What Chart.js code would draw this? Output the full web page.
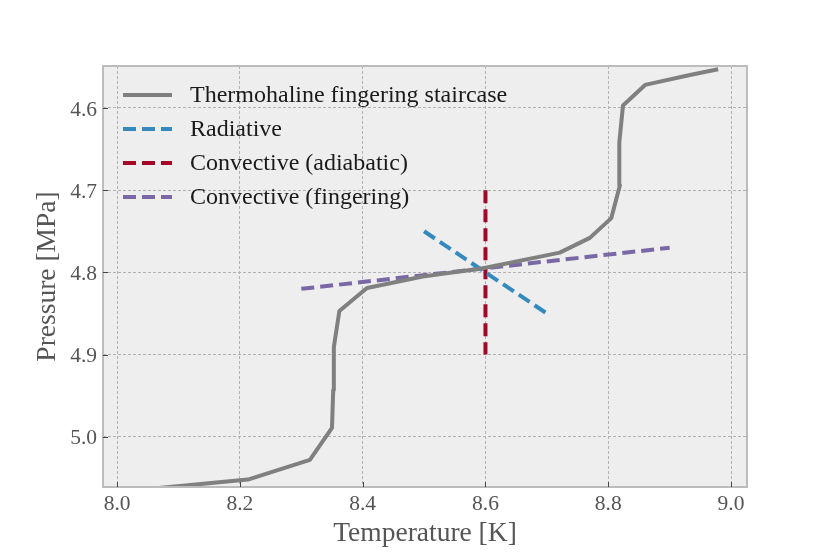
<!DOCTYPE html>
<html>
<head>
<meta charset="utf-8">
<script src="https://cdn.jsdelivr.net/npm/chart.js@4.4.0/dist/chart.umd.min.js"></script>
<style>
  html, body { margin: 0; padding: 0; background: #ffffff; }
  #wrap { width: 830px; height: 554px; }
</style>
</head>
<body>
<div id="wrap"><canvas id="chart"></canvas></div>
<script>
// staircase profile
const stairT = [8.0, 8.213, 8.314, 8.350, 8.352, 8.353, 8.362, 8.407, 8.498, 8.596, 8.721, 8.770, 8.805, 8.819, 8.818, 8.824, 8.860, 8.933, 8.979];
const stairP = [5.067, 5.052, 5.028, 4.989, 4.943, 4.891, 4.847, 4.819, 4.805, 4.795, 4.776, 4.758, 4.734, 4.694, 4.642, 4.597, 4.572, 4.560, 4.553];

// gradient lines
const radT = [8.5, 8.7];
const radP = [4.75, 4.85];
const adiT = [8.6, 8.6];
const adiP = [4.7, 4.9];
const fingT = [8.3, 8.9];
const fingP = [4.82, 4.77];

const xTicks = [8.0, 8.2, 8.4, 8.6, 8.8, 9.0];
const yTicks = [4.6, 4.7, 4.8, 4.9, 5.0];

const serif = "'Liberation Serif', 'DejaVu Serif', serif";

function pts(xs, ys) {
    return xs.map((x, i) => ({ x: x, y: ys[i] }));
}

// background, frame, inward ticks and legend in the plot
const framePlugin = {
    id: 'frame',
    beforeDraw(chart) {
        const { ctx, chartArea: a } = chart;
        ctx.save();
        ctx.fillStyle = '#eeeeee';
        ctx.fillRect(a.left, a.top, a.right - a.left, a.bottom - a.top);
        ctx.restore();
    },
    afterDraw(chart) {
        const { ctx, chartArea: a, scales } = chart;
        ctx.save();
        ctx.strokeStyle = '#bcbcbc';
        ctx.lineWidth = 2;
        ctx.strokeRect(a.left, a.top, a.right - a.left, a.bottom - a.top);

        ctx.strokeStyle = '#444444';
        ctx.lineWidth = 1;
        xTicks.forEach(v => {
            const px = Math.round(scales.x.getPixelForValue(v)) + 0.5;
            ctx.beginPath();
            ctx.moveTo(px, a.bottom);
            ctx.lineTo(px, a.bottom - 5);
            ctx.stroke();
        });
        yTicks.forEach(v => {
            const py = Math.round(scales.y.getPixelForValue(v)) + 0.5;
            ctx.beginPath();
            ctx.moveTo(a.left, py);
            ctx.lineTo(a.left + 5, py);
            ctx.stroke();
        });

        // legend
        const lx = a.left + 20;
        let ly = a.top + 29;
        ctx.font = '24px ' + serif;
        ctx.textBaseline = 'middle';
        chart.data.datasets.forEach(ds => {
            ctx.strokeStyle = ds.borderColor;
            ctx.lineWidth = ds.borderWidth;
            ctx.setLineDash(ds.borderDash || []);
            ctx.beginPath();
            ctx.moveTo(lx, ly);
            ctx.lineTo(lx + 49, ly);
            ctx.stroke();
            ctx.setLineDash([]);
            ctx.fillStyle = '#1a1a1a';
            ctx.fillText(ds.label, lx + 67, ly + 1);
            ly += 34;
        });
        ctx.restore();
    }
};

new Chart(document.getElementById('chart'), {
    type: 'scatter',
    data: {
        datasets: [
            {
                label: 'Thermohaline fingering staircase',
                data: pts(stairT, stairP),
                showLine: true,
                borderColor: '#808080',
                borderWidth: 4,
                borderJoinStyle: 'round',
                pointRadius: 0
            },
            {
                label: 'Radiative',
                data: pts(radT, radP),
                showLine: true,
                borderColor: '#348ABD',
                borderWidth: 4,
                borderDash: [13, 6],
                pointRadius: 0
            },
            {
                label: 'Convective (adiabatic)',
                data: pts(adiT, adiP),
                showLine: true,
                borderColor: '#A60628',
                borderWidth: 4,
                borderDash: [13, 6],
                pointRadius: 0
            },
            {
                label: 'Convective (fingering)',
                data: pts(fingT, fingP),
                showLine: true,
                borderColor: '#7A68A6',
                borderWidth: 4,
                borderDash: [13, 6],
                pointRadius: 0
            }
        ]
    },
    options: {
        responsive: true,
        maintainAspectRatio: false,
        animation: false,
        layout: { padding: { left: 0, top: 66, right: 83, bottom: 0 } },
        plugins: {
            legend: { display: false },
            tooltip: { enabled: false }
        },
        scales: {
            x: {
                type: 'linear',
                min: 7.977,
                max: 9.026,
                afterBuildTicks: s => { s.ticks = xTicks.map(v => ({ value: v })); },
                afterFit: s => { s.height = 67; },
                grid: { color: '#b2b2b2', lineWidth: 1, drawTicks: false },
                border: { display: false, dash: [3, 2] },
                ticks: {
                    color: '#555555',
                    font: { family: serif, size: 21.5 },
                    padding: 4,
                    maxRotation: 0,
                    callback: v => v.toFixed(1)
                },
                title: {
                    display: true,
                    text: 'Temperature [K]',
                    color: '#555555',
                    font: { family: serif, size: 27.5 },
                    padding: { top: 0, bottom: 4 }
                }
            },
            y: {
                type: 'linear',
                reverse: true,
                min: 4.549,
                max: 5.061,
                afterBuildTicks: s => { s.ticks = yTicks.map(v => ({ value: v })); },
                afterFit: s => { s.width = 103; },
                grid: { color: '#b2b2b2', lineWidth: 1, drawTicks: false },
                border: { display: false, dash: [3, 2] },
                ticks: {
                    color: '#555555',
                    font: { family: serif, size: 21.5 },
                    padding: 6,
                    labelOffset: 2,
                    callback: v => v.toFixed(1)
                },
                title: {
                    display: true,
                    text: 'Pressure [MPa]',
                    color: '#555555',
                    font: { family: serif, size: 27.5 },
                    padding: { top: 31, bottom: 0 }
                }
            }
        }
    },
    plugins: [framePlugin]
});
</script>
</body>
</html>
